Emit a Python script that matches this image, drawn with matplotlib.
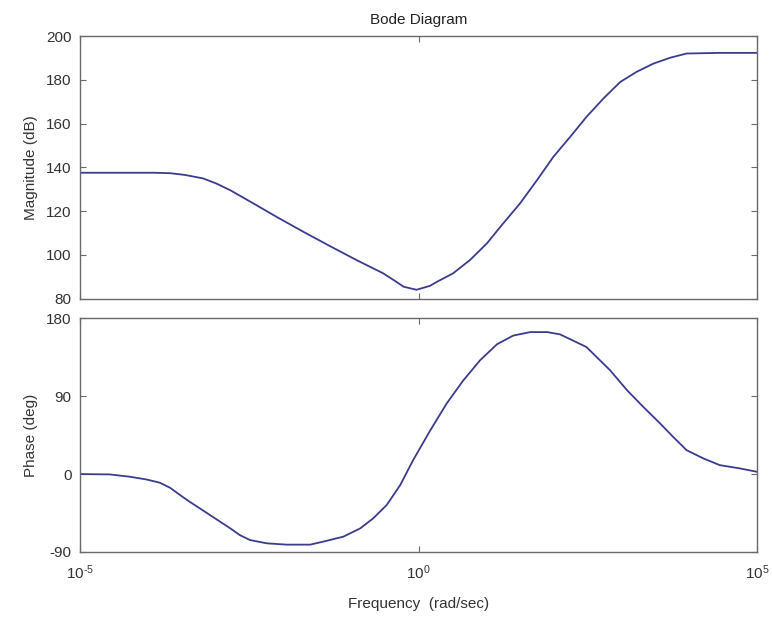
import matplotlib.pyplot as plt
import numpy as np

plt.rcParams['font.family'] = ['Liberation Sans', 'DejaVu Sans']
plt.rcParams['mathtext.fontset'] = 'custom'
plt.rcParams['mathtext.rm'] = 'Liberation Sans'
plt.rcParams['mathtext.it'] = 'Liberation Sans'
plt.rcParams['axes.unicode_minus'] = False

# magnitude response, log10(w) vs dB
mag_logw = [-5, -4.5, -3.9, -3.67, -3.45, -3.18, -2.98, -2.78, -2.44, -2.10,
            -1.70, -1.31, -0.91, -0.52, -0.32, -0.22, -0.03, 0.17, 0.27, 0.51,
            0.76, 1.01, 1.25, 1.50, 1.75, 1.99, 2.24, 2.48, 2.73, 2.98, 3.22,
            3.47, 3.72, 3.96, 4.45, 5]
mag_db = [137.5, 137.5, 137.5, 137.3, 136.5, 134.9, 132.5, 129.5, 123.5, 117.4,
          110.5, 104, 97.5, 91.5, 87.5, 85.4, 84.0, 85.8, 87.6, 91.5,
          97.6, 105.2, 114.3, 123.5, 134.1, 144.7, 153.9, 163, 171.4, 179, 183.6,
          187.4, 190.1, 192, 192.3, 192.3]

# phase response, log10(w) vs degrees
ph_logw = [-5, -4.56, -4.26, -4.02, -3.82, -3.67, -3.52, -3.38, -3.23, -3.08,
           -2.93, -2.78, -2.64, -2.49, -2.24, -1.95, -1.60, -1.41, -1.11, -0.86,
           -0.67, -0.47, -0.27, -0.08, 0.17, 0.42, 0.66, 0.91, 1.16, 1.40,
           1.65, 1.90, 2.09, 2.48, 2.83, 3.08, 3.32, 3.57, 3.76, 3.96, 4.21,
           4.45, 4.75, 5]
ph_deg = [0, -0.4, -3.1, -6.2, -10, -15.8, -24.3, -32, -39.6, -47.3,
          -55, -62.7, -70.4, -76.2, -80, -81.5, -81.5, -78.1, -72.3, -62.7,
          -51.2, -35.8, -12.7, 16, 50, 82, 108, 131.5, 150, 160,
          164, 164, 161.4, 146.8, 119.9, 96.9, 77.6, 58.4, 43, 27.6, 18,
          10.3, 6.5, 2.6]

xtick_vals = [1e-5, 1e0, 1e5]
xtick_text = [r'$10^{\text{-}5}$', r'$10^{0}$', r'$10^{5}$']

line_color = '#3b3b8f'
edge_color = '#6a6a6a'
text_color = '#333333'
fs = 11

fig = plt.figure(figsize=(7.72, 6.2), dpi=100)
ax1 = fig.add_axes([0.1036, 0.5185, 0.877, 0.4234])
ax2 = fig.add_axes([0.1036, 0.1097, 0.877, 0.377])

ax1.semilogx(10.0 ** np.array(mag_logw), mag_db, color=line_color, lw=1.3)
ax2.semilogx(10.0 ** np.array(ph_logw), ph_deg, color=line_color, lw=1.3)

for ax in (ax1, ax2):
    ax.set_xlim(1e-5, 1e5)
    ax.set_xticks(xtick_vals)
    ax.minorticks_off()
    ax.tick_params(direction='in', length=4, width=0.8, top=True, right=True,
                   colors=edge_color, labelcolor=text_color, labelsize=fs)
    ax.tick_params(axis='y', pad=6)
    for sp in ax.spines.values():
        sp.set_color(edge_color)
        sp.set_linewidth(1.0)

ax1.set_ylim(80, 200)
ax1.set_yticks(np.arange(80, 201, 20))
ax1.set_xticklabels([])
ax1.set_ylabel('Magnitude (dB)', fontsize=fs, color=text_color, labelpad=6)
ax1.set_title('Bode Diagram', fontsize=fs, color='#222222', pad=9)

ax2.set_ylim(-90, 180)
ax2.set_yticks([-90, 0, 90, 180])
ax2.set_xticklabels(xtick_text)
ax2.tick_params(axis='x', pad=8)
ax2.set_ylabel('Phase (deg)', fontsize=fs, color=text_color, labelpad=6)
ax2.set_xlabel('Frequency  (rad/sec)', fontsize=fs, color=text_color, labelpad=11)

fig.savefig('out.png', dpi=100)
